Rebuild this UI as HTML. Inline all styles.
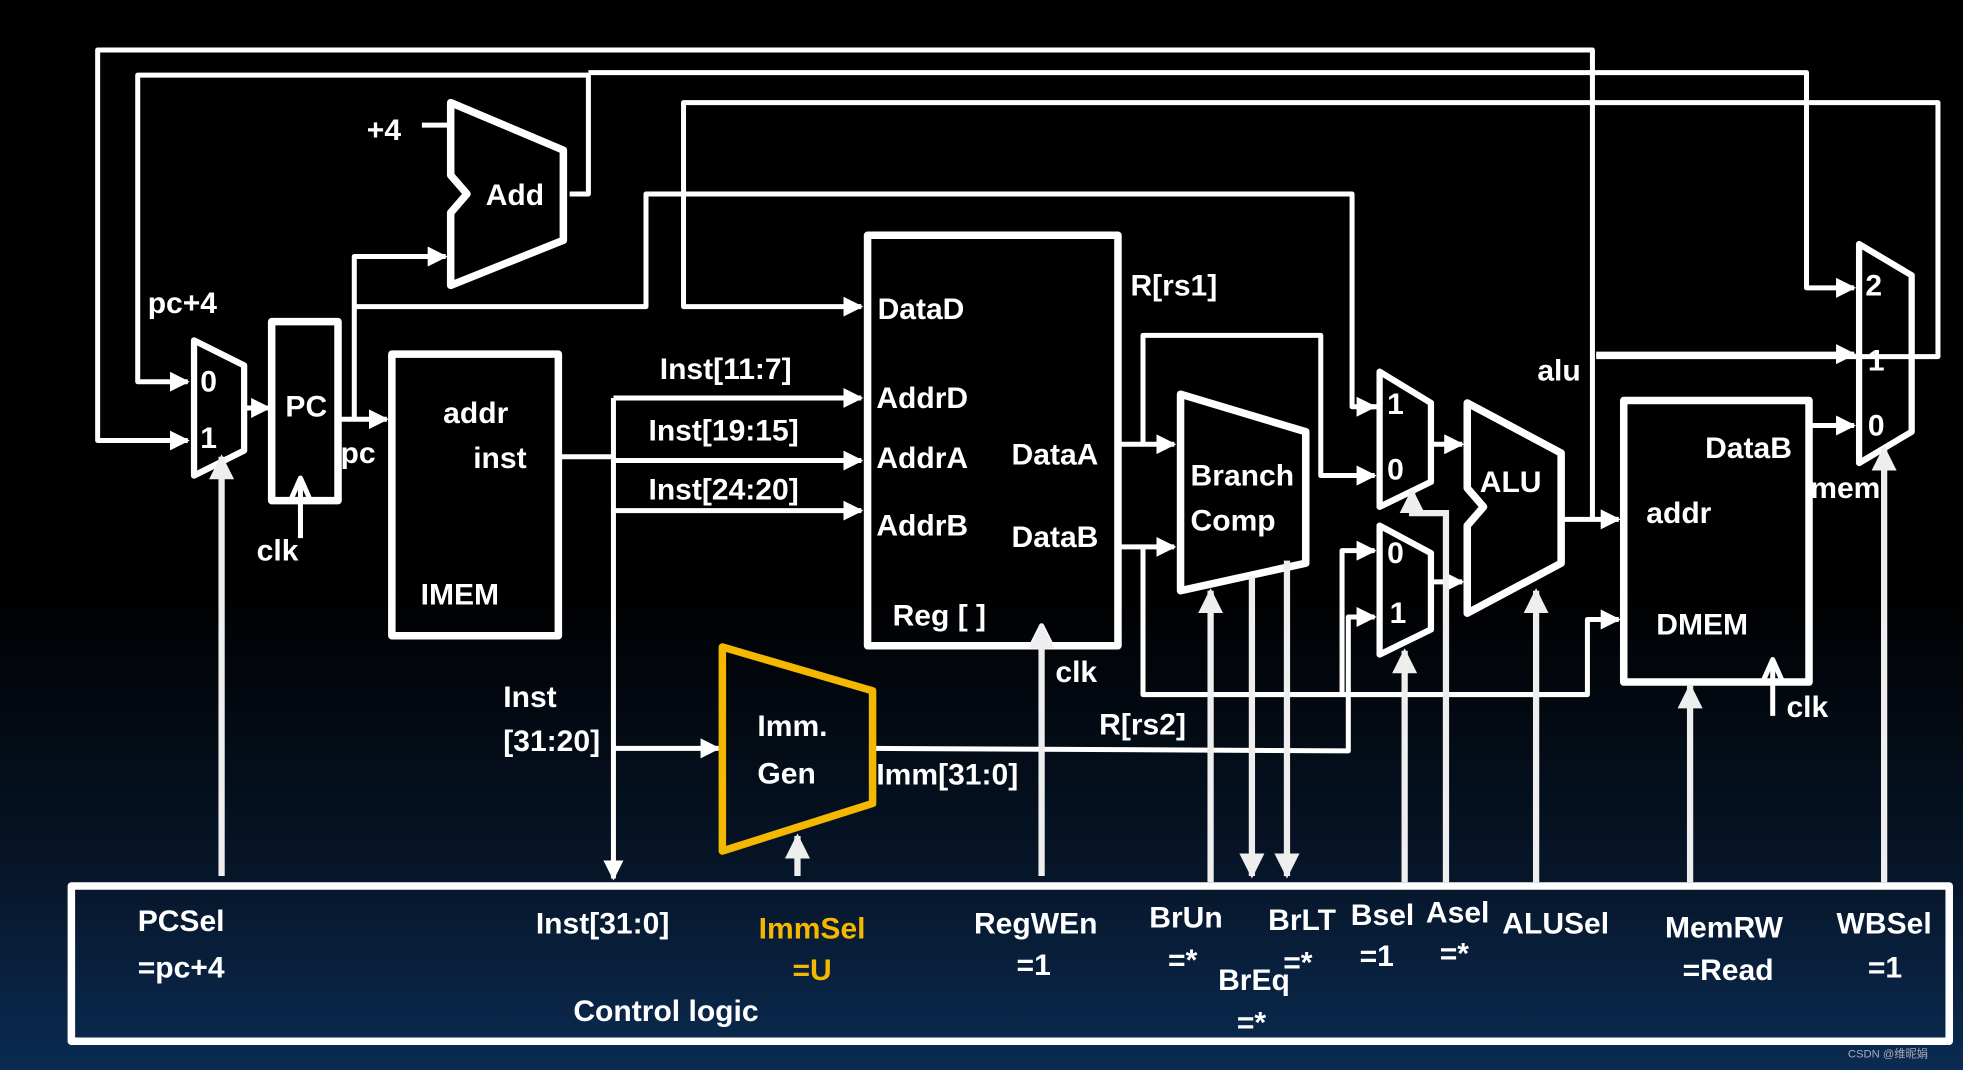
<!DOCTYPE html>
<html><head><meta charset="utf-8"><style>
html,body{margin:0;padding:0;width:1963px;height:1070px;overflow:hidden;background:#000}
svg{display:block}
text{font-family:"Liberation Sans","Noto Sans CJK SC",sans-serif;font-weight:bold;fill:#fff;font-size:24px}
</style></head><body>
<svg width="1963" height="1070" viewBox="0 0 1568 855" preserveAspectRatio="none" xmlns="http://www.w3.org/2000/svg">
<defs>
<linearGradient id="bg" x1="0" y1="0" x2="0" y2="1">
<stop offset="0" stop-color="#000"/><stop offset="0.55" stop-color="#000"/><stop offset="0.8" stop-color="#061426"/><stop offset="1" stop-color="#0b2b52"/>
</linearGradient>
<marker id="a" viewBox="0 0 10 10" refX="9" refY="5" markerWidth="4" markerHeight="4" orient="auto"><path d="M0,0L10,5L0,10z" fill="#fff"/></marker>
<marker id="g" viewBox="0 0 10 10" refX="9" refY="5" markerWidth="4" markerHeight="4" orient="auto"><path d="M0,0L10,5L0,10z" fill="#eee"/></marker>
</defs>
<rect width="1568" height="855" fill="url(#bg)"/>
<g fill="none" stroke="#fff" stroke-width="4" stroke-linejoin="round">
<polyline points="1272,415 1272,40 78,40 78,352 150,352" marker-end="url(#a)"/>
<polyline points="455,155 470,155 470,60 110,60 110,305 150,305" marker-end="url(#a)"/>
<polyline points="470,58 1443,58 1443,230 1481,230" marker-end="url(#a)"/>
<polyline points="1275,285 1548,285 1548,82 546,82 546,245 688,245" marker-end="url(#a)"/>
<polyline points="1275,283 1481,283" marker-end="url(#a)"/>
<polyline points="1100,325 1080,325 1080,155 516,155 516,245 283,245"/>
<line x1="1085" y1="325" x2="1098" y2="325" marker-end="url(#a)"/>
<polyline points="270,335 283,335 283,205 356,205" marker-end="url(#a)"/>
<polyline points="283,335 309,335" marker-end="url(#a)"/>
<line x1="337" y1="100" x2="360" y2="100"/>
<polygon points="360,82 450,120 450,192 360,228 360,170 373,155 360,140" stroke-width="6"/>
<polygon points="155,272 195,292 195,360 155,380" stroke-width="5"/>
<line x1="195" y1="326" x2="215" y2="326" marker-end="url(#a)"/>
<rect x="217" y="257" width="53" height="143" stroke-width="6"/>
<polyline points="232,400 240,382 248,400"/>
<line x1="240" y1="384" x2="240" y2="430"/>
<rect x="313" y="283" width="133" height="225" stroke-width="6"/>
<polyline points="446,365 490,365"/>
<line x1="490" y1="318" x2="490" y2="702" marker-end="url(#a)"/>
<polyline points="490,318 688,318" marker-end="url(#a)"/>
<polyline points="490,368 688,368" marker-end="url(#a)"/>
<polyline points="490,408 688,408" marker-end="url(#a)"/>
<polyline points="490,598 574,598" marker-end="url(#a)"/>
<rect x="693" y="188" width="200" height="328" stroke-width="6"/>
<polyline points="824,516 832,500 840,516"/>
<polyline points="893,355 938,355" marker-end="url(#a)"/>
<polyline points="913,355 913,268 1055,268 1055,380 1098,380" marker-end="url(#a)"/>
<polyline points="893,437 938,437" marker-end="url(#a)"/>
<polyline points="913,437 913,555 1268,555 1268,495 1293,495" marker-end="url(#a)"/>
<polyline points="1072,555 1072,440 1098,440" marker-end="url(#a)"/>
<polyline points="697,598 1077,600 1077,493 1098,493" marker-end="url(#a)"/>
<polygon points="943,315 1043,345 1043,450 943,472" stroke-width="6"/>
<polygon points="1102,297 1143,322 1143,385 1102,405" stroke-width="5"/>
<polygon points="1102,420 1143,442 1143,503 1102,523" stroke-width="5"/>
<line x1="1143" y1="355" x2="1168" y2="355" marker-end="url(#a)"/>
<line x1="1143" y1="465" x2="1168" y2="465" marker-end="url(#a)"/>
<polygon points="1172,322 1247,362 1247,450 1172,490 1172,420 1185,405 1172,390" stroke-width="6"/>
<polyline points="1247,415 1293,415" marker-end="url(#a)"/>
<rect x="1297" y="320" width="148" height="225" stroke-width="6"/>
<polyline points="1408,545 1416,527 1424,545"/>
<line x1="1416" y1="527" x2="1416" y2="572"/>
<line x1="1445" y1="340" x2="1481" y2="340" marker-end="url(#a)"/>
<polygon points="1485,195 1527,220 1527,345 1485,370" stroke-width="5"/>
<polygon points="577,517 697,552 697,642 577,680" stroke="#f5b800" stroke-width="6"/>
<rect x="57" y="708" width="1500" height="124" stroke-width="6"/>
</g>
<g stroke="#eee" stroke-width="5" fill="none">
<line x1="177" y1="700" x2="177" y2="365" marker-end="url(#g)"/>
<line x1="637" y1="700" x2="637" y2="668" marker-end="url(#g)"/>
<line x1="832" y1="700" x2="832" y2="500" marker-end="url(#g)"/>
<line x1="967" y1="705" x2="967" y2="472" marker-end="url(#g)"/>
<line x1="1000" y1="460" x2="1000" y2="700" marker-end="url(#g)"/>
<line x1="1028" y1="448" x2="1028" y2="700" marker-end="url(#g)"/>
<line x1="1122" y1="705" x2="1122" y2="520" marker-end="url(#g)"/>
<polyline points="1155,705 1155,410 1128,410 1128,392" marker-end="url(#g)"/>
<line x1="1227" y1="705" x2="1227" y2="472" marker-end="url(#g)"/>
<line x1="1350" y1="705" x2="1350" y2="548" marker-end="url(#g)"/>
<line x1="1505" y1="705" x2="1505" y2="358" marker-end="url(#g)"/>
</g>
<g>
<text x="293" y="112">+4</text>
<text x="388" y="164">Add</text>
<text x="118" y="250">pc+4</text>
<text x="160" y="313" font-size="20" font-weight="normal">0</text>
<text x="160" y="358" font-size="20" font-weight="normal">1</text>
<text x="228" y="333" font-size="20">PC</text>
<text x="272" y="370">pc</text>
<text x="205" y="448">clk</text>
<text x="354" y="338">addr</text>
<text x="378" y="374">inst</text>
<text x="336" y="483" font-size="28">IMEM</text>
<text x="527" y="303">Inst[11:7]</text>
<text x="518" y="352">Inst[19:15]</text>
<text x="518" y="399">Inst[24:20]</text>
<text x="402" y="565">Inst</text>
<text x="402" y="600">[31:20]</text>
<text x="701" y="255">DataD</text>
<text x="700" y="326">AddrD</text>
<text x="700" y="374">AddrA</text>
<text x="700" y="428">AddrB</text>
<text x="808" y="371">DataA</text>
<text x="808" y="437">DataB</text>
<text x="713" y="500">Reg [ ]</text>
<text x="843" y="545">clk</text>
<text x="903" y="236">R[rs1]</text>
<text x="878" y="587">R[rs2]</text>
<text x="700" y="627">Imm[31:0]</text>
<text x="605" y="588" font-size="26">Imm.</text>
<text x="605" y="626" font-size="26">Gen</text>
<text x="951" y="388" font-size="25">Branch</text>
<text x="951" y="424" font-size="25">Comp</text>
<text x="1108" y="331" font-size="20" font-weight="normal">1</text>
<text x="1108" y="383" font-size="20" font-weight="normal">0</text>
<text x="1108" y="450" font-size="20" font-weight="normal">0</text>
<text x="1110" y="498" font-size="20" font-weight="normal">1</text>
<text x="1182" y="393" font-size="28">ALU</text>
<text x="1228" y="304">alu</text>
<text x="1315" y="418">addr</text>
<text x="1362" y="366" font-size="22">DataB</text>
<text x="1323" y="507" font-size="28">DMEM</text>
<text x="1427" y="573">clk</text>
<text x="1446" y="398">mem</text>
<text x="1490" y="236" font-size="20" font-weight="normal">2</text>
<text x="1492" y="296" font-size="20" font-weight="normal">1</text>
<text x="1492" y="348" font-size="20" font-weight="normal">0</text>
<text x="110" y="744">PCSel</text>
<text x="110" y="781">=pc+4</text>
<text x="428" y="746">Inst[31:0]</text>
<text x="606" y="750" style="fill:#f5b800">ImmSel</text>
<text x="633" y="783" style="fill:#f5b800">=U</text>
<text x="778" y="746">RegWEn</text>
<text x="812" y="779">=1</text>
<text x="918" y="741">BrUn</text>
<text x="933" y="775">=*</text>
<text x="1013" y="743">BrLT</text>
<text x="1025" y="777">=*</text>
<text x="973" y="791">BrEq</text>
<text x="988" y="825">=*</text>
<text x="1079" y="739">Bsel</text>
<text x="1086" y="772">=1</text>
<text x="1139" y="737">Asel</text>
<text x="1150" y="770">=*</text>
<text x="1200" y="746">ALUSel</text>
<text x="1330" y="749">MemRW</text>
<text x="1344" y="783">=Read</text>
<text x="1467" y="746">WBSel</text>
<text x="1492" y="781">=1</text>
<text x="458" y="816" font-size="27">Control logic</text>
<text x="1476" y="845" style="font-size:9px;font-weight:normal;fill:#aab">CSDN @维昵娟</text>
</g>
</svg>
</body></html>
